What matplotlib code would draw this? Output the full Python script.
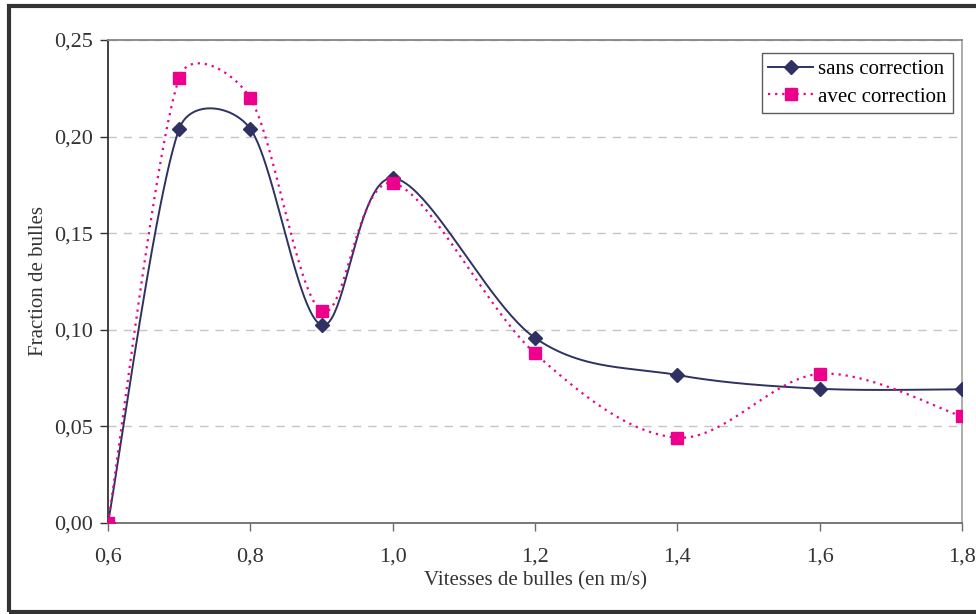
import numpy as np
import matplotlib
matplotlib.use('Agg')
import matplotlib.pyplot as plt
from matplotlib.ticker import FuncFormatter, MultipleLocator
from matplotlib.patches import Rectangle

# données
vitesses = [0.6, 0.7, 0.8, 0.9, 1.0, 1.2, 1.4, 1.6, 1.8]
sans_correction = [0.0, 0.204, 0.204, 0.1025, 0.1785, 0.0958, 0.0766, 0.0695, 0.0692]
avec_correction = [0.0, 0.2305, 0.2198, 0.1097, 0.176, 0.0878, 0.0442, 0.0772, 0.0552]

xlim = (0.6, 1.8)
ylim = (0.0, 0.25)

plt.rcParams['font.family'] = ['Liberation Serif', 'DejaVu Serif']


def smooth(x, y, n=50):
  """courbe lissée type Excel (Bezier pondérée par les longueurs), calculée en espace écran"""
  sx = (np.asarray(x) - xlim[0]) / (xlim[1] - xlim[0]) * 854.0
  sy = (np.asarray(y) - ylim[0]) / (ylim[1] - ylim[0]) * 483.0
  P = np.column_stack([sx, sy])
  m = len(P)

  def ctrl(i, forward):
    p0 = P[i - 1] if i > 0 else P[i]
    p2 = P[i + 1] if i + 1 < m else P[i]
    d0 = np.hypot(*(P[i] - p0))
    d1 = np.hypot(*(p2 - P[i]))
    if d0 + d1 == 0:
      return P[i]
    w = (d1 if forward else d0) / (d0 + d1)
    f = min(0.5 * w, 1 / 6.0)
    return P[i] + (p2 - p0) * f * (1 if forward else -1)

  pts = []
  for i in range(m - 1):
    p1, p2 = P[i], P[i + 1]
    c1 = ctrl(i, True)
    c2 = ctrl(i + 1, False)
    t = np.linspace(0, 1, n)[:, None]
    seg = (1 - t) ** 3 * p1 + 3 * (1 - t) ** 2 * t * c1 + 3 * (1 - t) * t ** 2 * c2 + t ** 3 * p2
    pts.append(seg if i == 0 else seg[1:])
  pts = np.vstack(pts)
  xo = pts[:, 0] / 854.0 * (xlim[1] - xlim[0]) + xlim[0]
  yo = pts[:, 1] / 483.0 * (ylim[1] - ylim[0]) + ylim[0]
  return xo, yo


fig = plt.figure(figsize=(9.76, 6.14), dpi=100)
ax = fig.add_axes([108 / 976, 1 - 523 / 614, 854 / 976, 483 / 614])

# cadre extérieur
fig.patches.append(Rectangle((9 / 976, 2 / 614), 1.2, 606 / 614, transform=fig.transFigure,
                             fill=False, edgecolor='#333333', linewidth=3, zorder=0))

navy = '#2f3163'
pink = '#ec008c'

xs, ys = smooth(vitesses, sans_correction)
ax.plot(xs, ys, color=navy, lw=1.4, zorder=3)
ax.plot(vitesses, sans_correction, ls='none', marker='D', ms=7.5, color=navy, zorder=4)

xa, ya = smooth(vitesses, avec_correction)
ax.plot(xa, ya, color=pink, lw=1.6, ls=(0, (1, 2.2)), zorder=3)
ax.plot(vitesses, avec_correction, ls='none', marker='s', ms=8, color=pink, zorder=5)

# légende
h1, = ax.plot([], [], color=navy, lw=1.4, marker='D', ms=7.5)
h2, = ax.plot([], [], color=pink, lw=1.6, ls=(0, (1, 2.2)), marker='s', ms=8)
leg = ax.legend([h1, h2], ['sans correction', 'avec correction'], loc='upper right',
                bbox_to_anchor=(0.9895, 0.973), fontsize=15, frameon=True, fancybox=False,
                handlelength=2.15, borderpad=0.3, labelspacing=0.4, handletextpad=0.25, borderaxespad=0)
leg.get_frame().set_edgecolor('#333333')
leg.get_frame().set_linewidth(1.0)

ax.set_xlim(*xlim)
ax.set_ylim(*ylim)
ax.xaxis.set_major_locator(MultipleLocator(0.2))
ax.yaxis.set_major_locator(MultipleLocator(0.05))
ax.xaxis.set_major_formatter(FuncFormatter(lambda v, p: ('%.1f' % v).replace('.', ',')))
ax.yaxis.set_major_formatter(FuncFormatter(lambda v, p: ('%.2f' % v).replace('.', ',')))

ax.yaxis.grid(True, ls=(0, (6, 5)), color='#c8c4c4', lw=1)
ax.set_axisbelow(True)

for s, c in [('left', '#333333'), ('bottom', '#6f6b6b'), ('top', '#8a8282'), ('right', '#aaa5a5')]:
  ax.spines[s].set_color(c)
  ax.spines[s].set_linewidth(1.3)

ax.tick_params(axis='y', direction='out', length=6, width=1, colors='#333333', labelsize=16, pad=5)
ax.tick_params(axis='x', direction='out', length=6, width=1, color='#6f6b6b', labelcolor='#333333',
               labelsize=16, pad=12)

ax.set_xlabel('Vitesses de bulles (en m/s)', fontsize=15, color='#333333', labelpad=3)
ax.set_ylabel('Fraction de bulles', fontsize=15, color='#333333', labelpad=4)

fig.savefig('out.png', dpi=100)
